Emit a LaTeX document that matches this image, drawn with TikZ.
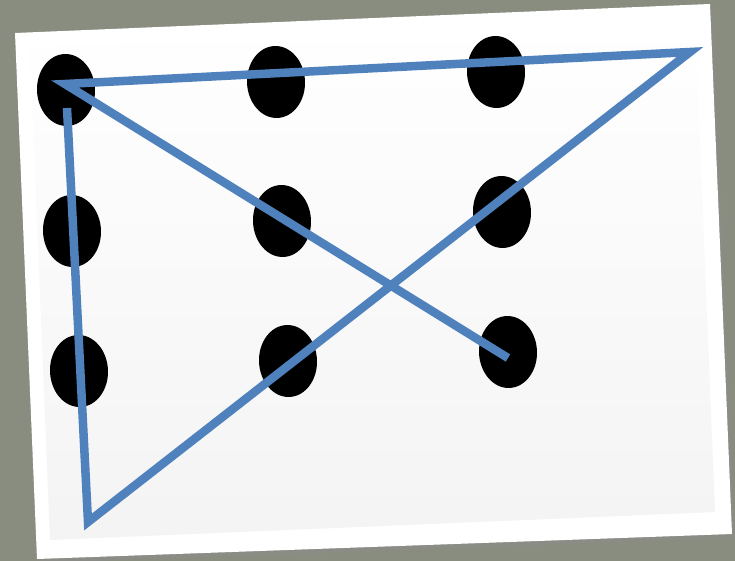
\documentclass[tikz,border=0pt]{standalone}
\usetikzlibrary{shapes.geometric}
\definecolor{wallgray}{HTML}{898D7F}
\definecolor{lineblue}{HTML}{4F81BD}

\begin{document}
\begin{tikzpicture}[x=1pt,y=-1pt,
  dot/.style={ellipse,fill=black,minimum width=58pt,minimum height=72pt,inner sep=0pt,rotate=2.5},
  puzzle/.style={draw=lineblue,line width=8.5pt,line join=miter}]
% background and card
\fill[wallgray] (0,0) rectangle (735,561);
\useasboundingbox (0,0) rectangle (735,561);
\fill[black!45,opacity=0.5] (18,37) -- (713,8) -- (735,538) -- (40,563) -- cycle;
\fill[white] (15,33) -- (710,4) -- (732,534) -- (37,559) -- cycle;
\shade[top color=white,bottom color=gray!9] (30,48) -- (695,20) -- (715,512) -- (50,540) -- cycle;
% nine dots
\node[dot] (d11) at (66,90) {};
\node[dot] (d12) at (276,82) {};
\node[dot] (d13) at (496,72) {};
\node[dot] (d21) at (72,231) {};
\node[dot] (d22) at (282,221) {};
\node[dot] (d23) at (502,212) {};
\node[dot] (d31) at (79,371) {};
\node[dot] (d32) at (288,361) {};
\node[dot] (d33) at (508,352) {};
% the four lines
\coordinate (start) at (67,108);
\coordinate (bl) at (88,522);
\coordinate (tr) at (690,52);
\coordinate (tl) at (65,84);
\coordinate (stop) at (508,358);
\draw[puzzle] (start) -- (bl) -- (tr) -- (tl) -- (stop);
\end{tikzpicture}
\end{document}
